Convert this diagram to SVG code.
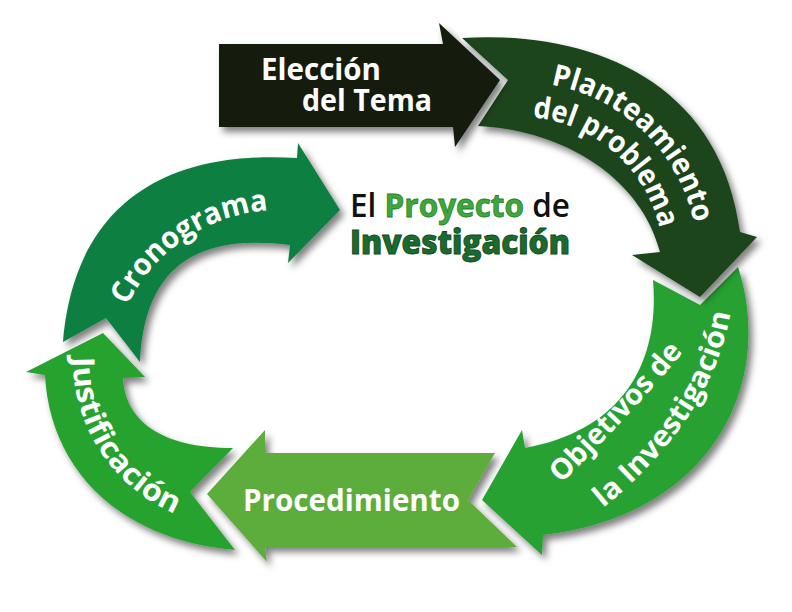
<svg xmlns="http://www.w3.org/2000/svg" xmlns:xlink="http://www.w3.org/1999/xlink" width="792" height="612" viewBox="0 0 792 612">
<defs>
<filter id="sh" x="-20%" y="-20%" width="140%" height="140%">
<feDropShadow dx="4" dy="5" stdDeviation="3.5" flood-color="#000" flood-opacity="0.5"/>
</filter>
<path id="tpPlan" d="M550.9,84.7 A178,178 0 0 1 694.1,223"/>
<path id="tpDel" d="M532.5,117.5 A143,143 0 0 1 659.3,227.8"/>
<path id="tpObj" d="M561,484 Q656,388 686,348"/>
<path id="tpLa" d="M603,508 Q717,415 732,303"/>
<path id="tpCro" d="M127.2,305.5 A170,170 0 0 1 268.1,210.4"/>
<path id="tpJus" d="M73,357.1 A167,167 0 0 0 176.1,514.3"/>
</defs>
<style>
.lbl{font-family:"Open Sans","Liberation Sans",sans-serif;font-weight:700;font-size:30px;fill:#fff}
.sm{font-size:29px}
.shape{filter:url(#sh)}
.title{font-family:"Open Sans","Liberation Sans",sans-serif;font-size:33px}
</style>
<rect width="792" height="612" fill="#fff"/>
<g id="connectors"></g>
<g id="cronograma">
<path class="shape" fill="#107f41" d="M63,342 C75,200 170,150 297,158 L298,143 L340,210 L288,263 L290,245 C210,235 145,255 140,362 L106,318 Z"/>
<text class="lbl"><textPath xlink:href="#tpCro" href="#tpCro" textLength="178" lengthAdjust="spacingAndGlyphs">Cronograma</textPath></text>
</g>
<g id="justificacion">
<path class="shape" fill="#26a22f" d="M45,375 L26,372 L103,333 L145,377 L123,378 C125,420 160,448 233,448 L190,492 L235,550 C120,540 50,470 45,375 Z"/>
<text class="lbl"><textPath xlink:href="#tpJus" href="#tpJus" textLength="198" lengthAdjust="spacingAndGlyphs">Justificación</textPath></text>
</g>
<g id="procedimiento">
<path class="shape" fill="#5dad3c" d="M265,453 L495,453 L468,500 L517,547 L265,547 L267,562 L207,494 L265,430 Z"/>
<text class="lbl" x="243" y="511" textLength="217" lengthAdjust="spacingAndGlyphs">Procedimiento</text>
</g>
<g id="objetivos">
<path class="shape" fill="#25a131" d="M653,280 L700,305 L738,267 C775,380 715,515 543,535 L542,555 L482,500 L522,430 L525,448 C625,430 660,360 653,280 Z"/>
<text class="lbl sm"><textPath xlink:href="#tpObj" href="#tpObj" textLength="180" lengthAdjust="spacingAndGlyphs">Objetivos de</textPath></text>
<text class="lbl sm"><textPath xlink:href="#tpLa" href="#tpLa" textLength="238" lengthAdjust="spacingAndGlyphs">la Investigación</textPath></text>
</g>
<g id="planteamiento">
<path class="shape" fill="#1a441f" d="M462,38 C590,30 720,80 740,232 L757,237 L700,297 L632,255 L660,252 C640,175 560,130 478,126 L508,80 Z"/>
<text class="lbl"><textPath xlink:href="#tpPlan" href="#tpPlan" textLength="211" lengthAdjust="spacingAndGlyphs">Planteamiento</textPath></text>
<text class="lbl"><textPath xlink:href="#tpDel" href="#tpDel" textLength="180" lengthAdjust="spacingAndGlyphs">del problema</textPath></text>
</g>
<g id="eleccion">
<path class="shape" fill="#121f10" d="M219,44 L443,44 L439,23 L500,80 L455,147 L453,127 L219,127 Z"/>
<text class="lbl" x="261" y="80" textLength="120" lengthAdjust="spacingAndGlyphs">Elección</text>
<text class="lbl" x="302" y="111" textLength="130" lengthAdjust="spacingAndGlyphs">del Tema</text>
</g>
<g id="title">
<text class="title" x="350" y="217" textLength="220" lengthAdjust="spacingAndGlyphs"><tspan font-weight="600" fill="#111">El </tspan><tspan font-weight="700" fill="#3fa83a" stroke="#23802c" stroke-width="0.8">Proyecto</tspan><tspan font-weight="600" fill="#111"> de</tspan></text>
<text class="title" x="350" y="254" font-weight="800" fill="#1b6a2e" stroke="#0f4a1e" stroke-width="0.9" textLength="220" lengthAdjust="spacingAndGlyphs">Investigación</text>
</g>
</svg>
